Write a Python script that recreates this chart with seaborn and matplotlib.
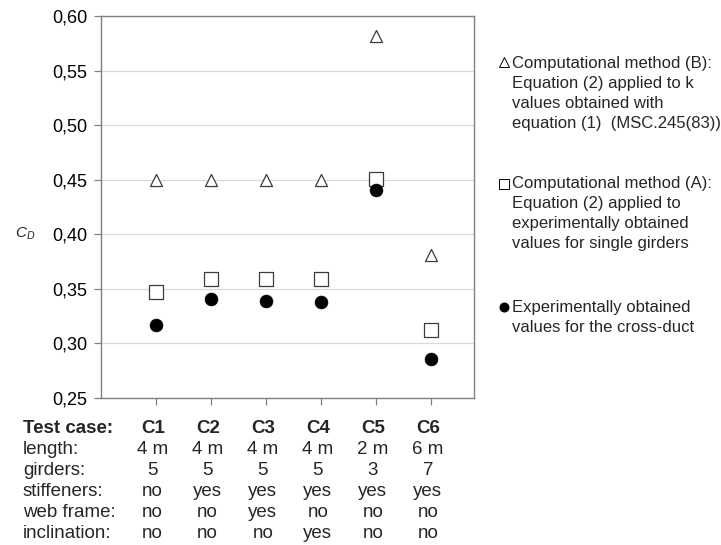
import matplotlib
matplotlib.use("Agg")
import matplotlib.pyplot as plt
from matplotlib.lines import Line2D
from matplotlib.ticker import FuncFormatter, FixedLocator
import seaborn as sns
import pandas as pd

# Test cases and drag coefficients
cases = ["C1", "C2", "C3", "C4", "C5", "C6"]
method_b = [0.450, 0.450, 0.450, 0.450, 0.582, 0.381]
method_a = [0.347, 0.359, 0.359, 0.359, 0.451, 0.312]
experimental = [0.317, 0.341, 0.339, 0.338, 0.441, 0.286]

# Configuration table under the plot
row_labels = ["Test case:", "length:", "girders:", "stiffeners:", "web frame:", "inclination:"]
lengths = ["4 m", "4 m", "4 m", "4 m", "2 m", "6 m"]
girders = ["5", "5", "5", "5", "3", "7"]
stiffeners = ["no", "yes", "yes", "yes", "yes", "yes"]
web_frame = ["no", "no", "yes", "no", "no", "no"]
inclination = ["no", "no", "no", "yes", "no", "no"]

legend_b = ["Computational method (B):", "Equation (2) applied to k",
            "values obtained with", "equation (1)  (MSC.245(83))"]
legend_a = ["Computational method (A):", "Equation (2) applied to",
            "experimentally obtained", "values for single girders"]
legend_e = ["Experimentally obtained", "values for the cross-duct"]

sns.set_theme(style="white")
plt.rcParams["font.family"] = ["Liberation Sans", "DejaVu Sans"]
plt.rcParams["mathtext.fontset"] = "custom"
plt.rcParams["mathtext.it"] = "Liberation Sans:italic"
plt.rcParams["mathtext.rm"] = "Liberation Sans"

pos = list(range(1, len(cases) + 1))
df = pd.DataFrame({"pos": pos, "case": cases, "B": method_b, "A": method_a, "E": experimental})

W, H = 721, 545
fig = plt.figure(figsize=(W / 100, H / 100), dpi=100)
ax = fig.add_axes([101 / W, 1 - 398 / H, 373 / W, 382 / H])

edge = "#3c3c3c"
sns.scatterplot(data=df, x="pos", y="B", marker="^", s=75, color="white",
                edgecolor=edge, linewidth=0.9, ax=ax, zorder=3)
sns.scatterplot(data=df, x="pos", y="A", marker="s", s=90, color="white",
                edgecolor=edge, linewidth=0.9, ax=ax, zorder=3)
sns.scatterplot(data=df, x="pos", y="E", marker="o", s=85, color="black",
                edgecolor="black", linewidth=0.5, ax=ax, zorder=4)

ax.set_xlim(0, 6.78)
ax.set_ylim(0.25, 0.60)
ax.xaxis.set_major_locator(FixedLocator(pos))
ax.set_xticklabels([])
ax.set_yticks([0.25, 0.30, 0.35, 0.40, 0.45, 0.50, 0.55, 0.60])
ax.yaxis.set_major_formatter(FuncFormatter(lambda v, _: f"{v:.2f}".replace(".", ",")))
ax.tick_params(axis="both", direction="out", length=5, width=0.9, color="#808080",
               labelsize=13, pad=5, left=True, bottom=True)
ax.tick_params(axis="y", labelcolor="black")
ax.set_xlabel("")
ax.set_ylabel("")
ax.grid(axis="y", color="#d9d9d9", linewidth=0.9)
ax.set_axisbelow(True)
for sp in ax.spines.values():
    sp.set_color("#808080")
    sp.set_linewidth(1.0)

fig.text(15 / W, 1 - 234 / H, "$C_D$", fontsize=11, va="center", ha="left")

# Table of test case properties
rows = [cases, lengths, girders, stiffeners, web_frame, inclination]
row_base = [433, 454, 475, 496, 517, 538]
trans = matplotlib.transforms.blended_transform_factory(ax.transData, fig.transFigure)
for i, (label, vals, y) in enumerate(zip(row_labels, rows, row_base)):
    weight = "bold" if i == 0 else "normal"
    fig.text(23 / W, 1 - y / H, label, fontsize=13.5, fontweight=weight,
             va="baseline", ha="left")
    for p, v in zip(pos, vals):
        ax.text(p - 0.06, 1 - y / H, v, transform=trans, fontsize=13.5, fontweight=weight,
                va="baseline", ha="center", clip_on=False)

# Legend block on the right
def legend_block(lines, base0, mark_y, marker, face, msize):
    fig.add_artist(Line2D([504 / W], [1 - mark_y / H], marker=marker, markersize=msize,
                          markerfacecolor=face, markeredgecolor="black",
                          markeredgewidth=0.7, linestyle="none",
                          transform=fig.transFigure))
    for k, line in enumerate(lines):
        fig.text(512 / W, 1 - (base0 + 20 * k) / H, line, fontsize=12,
                 va="baseline", ha="left")

legend_block(legend_b, 68, 62, "^", "white", 6.5)
legend_block(legend_a, 188, 184, "s", "white", 6.5)
legend_block(legend_e, 312, 307, "o", "black", 6.5)

fig.savefig("out.png", dpi=100, facecolor="white")
